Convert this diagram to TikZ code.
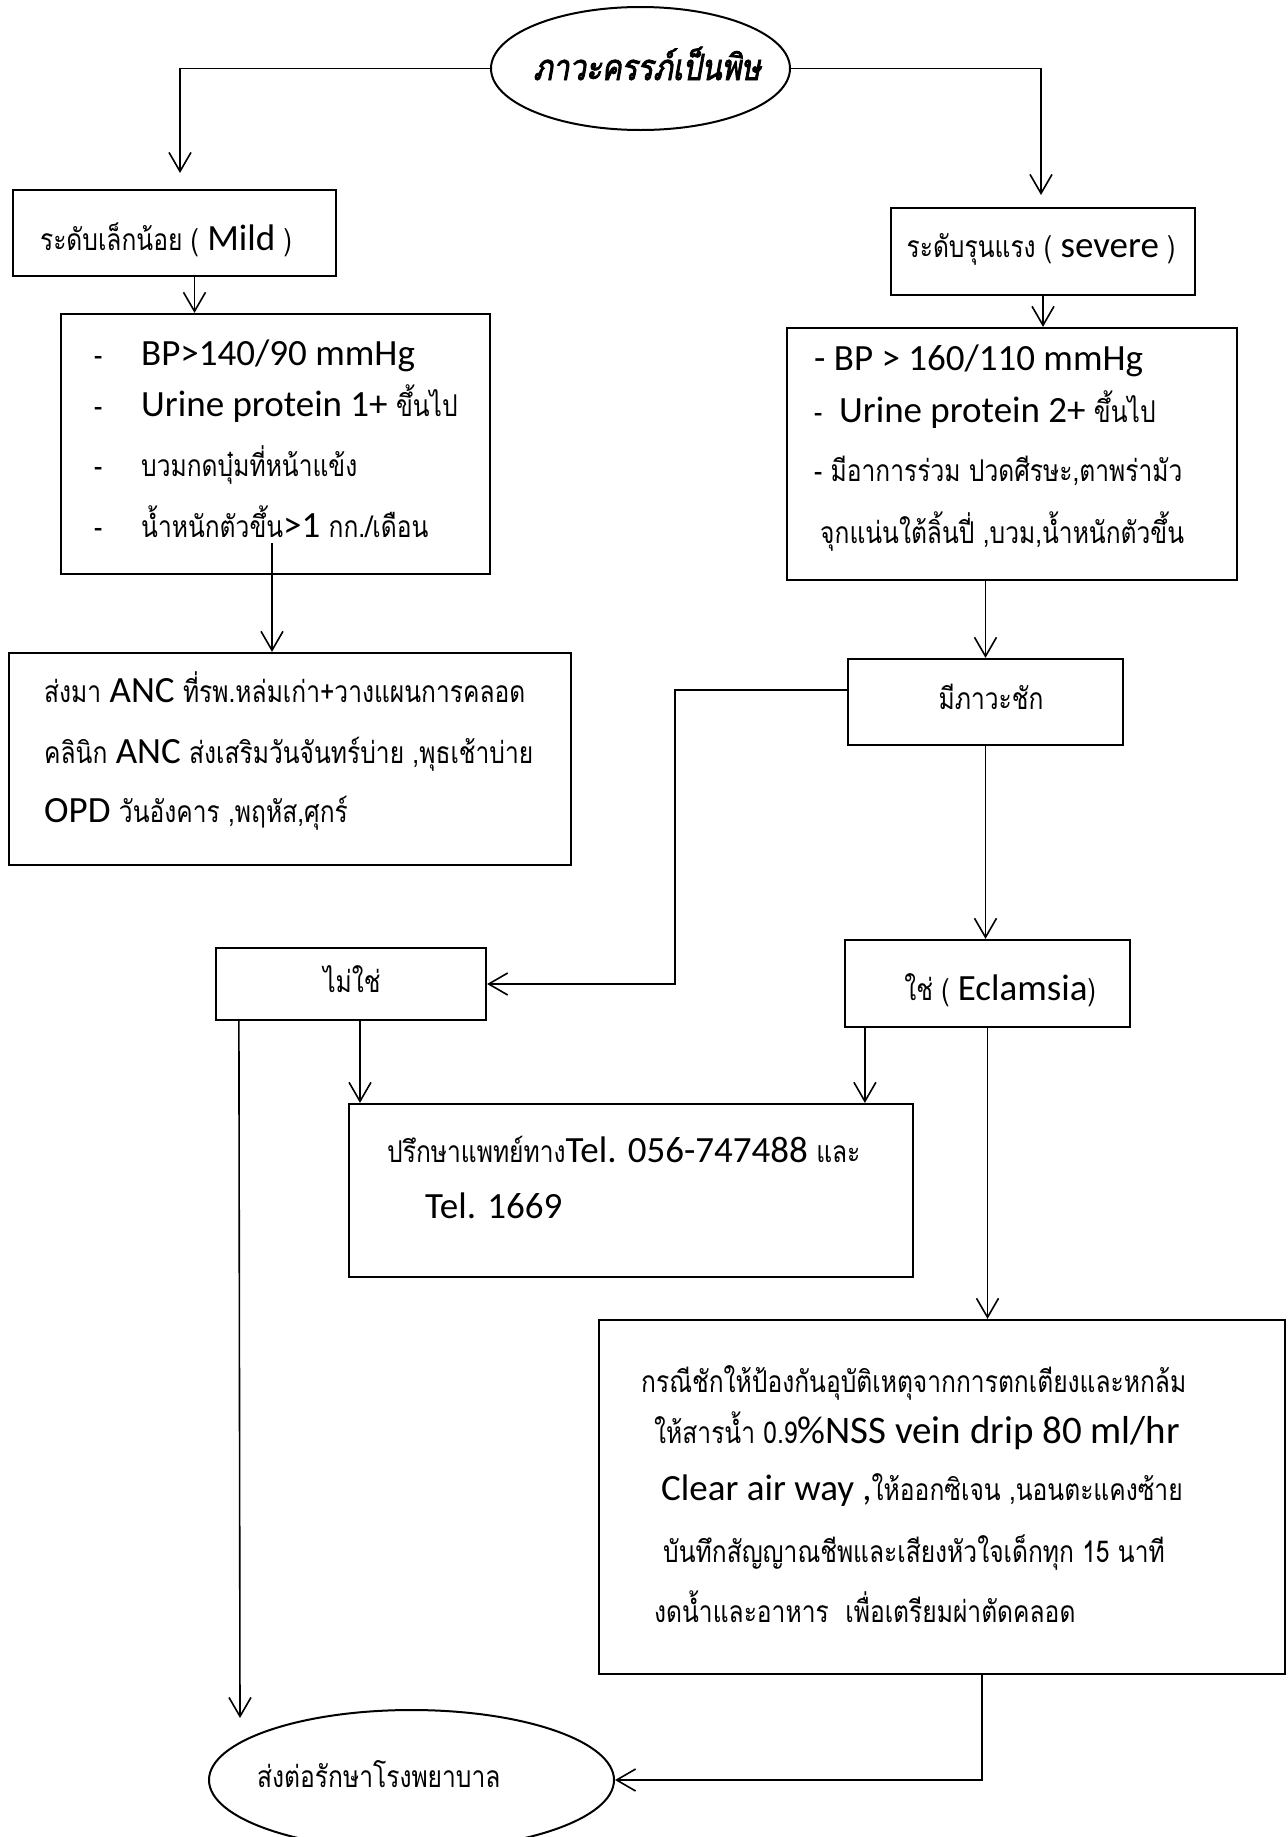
\documentclass[tikz,border=0pt]{standalone}
\usepackage{fontspec}
\setmainfont{Carlito}
\newfontfamily\thai[Script=Thai,FakeStretch=0.82]{Loma}
\newfontfamily\thaititle[Script=Thai,FakeStretch=0.82,FakeBold=2.2,FakeSlant=0.18]{Loma}
\usetikzlibrary{arrows.meta,shapes.geometric,calc}
\newcommand\tha[1]{{\thai\fontsize{30}{36}\selectfont #1}}
\begin{document}
\begin{tikzpicture}[x=1pt,y=-1pt,
  box/.style={draw,rectangle,line width=2.2pt,inner sep=0pt},
  oval/.style={draw,ellipse,line width=2pt,inner sep=0pt},
  txt/.style={anchor=base west,inner sep=0pt,font=\fontsize{37}{44}\selectfont},
  ctxt/.style={anchor=base,inner sep=0pt,font=\fontsize{37}{44}\selectfont},
  conn/.style={line width=1.6pt,-{Straight Barb[length=19pt,width=22pt,line width=1.6pt]}},
  plain/.style={line width=1.6pt}]
\useasboundingbox (0,0) rectangle (1288,1837);

% ---- shapes ----
\node[oval,minimum width=299pt,minimum height=123pt] (top) at (640.5,68.5) {};
\node[box,minimum width=323pt,minimum height=86pt] (mild) at (174.5,233) {};
\node[box,minimum width=304pt,minimum height=87pt] (sev) at (1043,251.5) {};
\node[box,minimum width=429pt,minimum height=260pt] (mildc) at (275.5,444) {};
\node[box,minimum width=450pt,minimum height=252pt] (sevc) at (1012,454) {};
\node[box,minimum width=562pt,minimum height=212pt] (anc) at (290,759) {};
\node[box,minimum width=275pt,minimum height=86pt] (seiz) at (985.5,702) {};
\node[box,minimum width=270pt,minimum height=72pt] (no) at (351,984) {};
\node[box,minimum width=285pt,minimum height=87pt] (ecl) at (987.5,983.5) {};
\node[box,minimum width=564pt,minimum height=173pt] (cons) at (631,1190.5) {};
\node[box,minimum width=686pt,minimum height=354pt] (treat) at (942,1497) {};
\node[oval,minimum width=405pt,minimum height=140pt] (final) at (411.5,1780) {};

% ---- texts ----
\node[ctxt] (toptxt) at (647,80) {{\thaititle\fontsize{36}{42}\selectfont ภาวะครรภ์เป็นพิษ}};
\node[ctxt] (mildtxt) at (166,250) {\tha{ระดับเล็กน้อย (} Mild \tha{)}};
\node[ctxt] (sevtxt) at (1041,257) {\tha{ระดับรุนแรง (} severe \tha{)}};

\node[txt] (m1d) at (94,365) {\tha{-}};
\node[txt] (m1) at (141,365) {BP>140/90 mmHg};
\node[txt] (m2d) at (94,416) {\tha{-}};
\node[txt] (m2) at (141,416) {Urine protein 1+ \tha{ขึ้นไป}};
\node[txt] (m3d) at (94,476) {\tha{-}};
\node[txt] (m3) at (141,476) {\tha{บวมกดบุ๋มที่หน้าแข้ง}};
\node[txt] (m4d) at (94,537) {\tha{-}};
\node[txt] (m4) at (141,537) {\tha{น้ำหนักตัวขึ้น}>1 \tha{กก./เดือน}};

\node[txt] (a1) at (44,702) {\tha{ส่งมา} ANC \tha{ที่รพ.หล่มเก่า+วางแผนการคลอด}};
\node[txt] (a2) at (44,763) {\tha{คลินิก} ANC \tha{ส่งเสริมวันจันทร์บ่าย ,พุธเช้าบ่าย}};
\node[txt] (a3) at (44,822) {OPD \tha{วันอังคาร ,พฤหัส,ศุกร์}};

\node[txt] (s1) at (814,370) {- BP > 160/110 mmHg};
\node[txt] (s2) at (814,422) {\tha{-}\ \ Urine protein 2+ \tha{ขึ้นไป}};
\node[txt] (s3) at (814,481) {\tha{- มีอาการร่วม ปวดศีรษะ,ตาพร่ามัว}};
\node[txt] (s4) at (820,543) {\tha{จุกแน่นใต้ลิ้นปี่ ,บวม,น้ำหนักตัวขึ้น}};

\node[ctxt] (seiztxt) at (991,709) {\tha{มีภาวะชัก}};
\node[ctxt] (notxt) at (352,992) {\tha{ไม่ใช่}};
\node[ctxt] (ecltxt) at (1000,1000) {\tha{ใช่ (} Eclamsia\tha{)}};

\node[txt] (c1) at (387,1162) {\tha{ปรึกษาแพทย์ทาง}Tel. 056-747488 \tha{และ}};
\node[txt] (c2) at (425,1218) {Tel. 1669};

\node[txt] (t1) at (641,1392) {\tha{กรณีชักให้ป้องกันอุบัติเหตุจากการตกเตียงและหกล้ม}};
\node[txt] (t2) at (654,1443) {\tha{ให้สารน้ำ 0.9}{\fontsize{39}{46}\selectfont \%NSS vein drip 80 ml/hr}};
\node[txt] (t3) at (661,1500) {Clear air way ,\tha{ให้ออกซิเจน ,นอนตะแคงซ้าย}};
\node[txt] (t4) at (663,1562) {\tha{บันทึกสัญญาณชีพและเสียงหัวใจเด็กทุก 15 นาที}};
\node[txt] (t5) at (654,1622) {\tha{งดน้ำและอาหาร\ \ เพื่อเตรียมผ่าตัดคลอด}};

\node[txt] (fintxt) at (257,1787) {\tha{ส่งต่อรักษาโรงพยาบาล}};

% ---- connector ends ----
\coordinate (mildin) at (180,173);
\coordinate (sevin) at (1041,195);
\coordinate (ancout) at (272,543);
\coordinate (jog) at (675,850);
\coordinate (finin) at (240,1718);

% ---- connectors ----
\draw[conn] (top.west) -| (mildin);
\draw[conn] (top.east) -| (sevin);
\draw[conn] ([xshift=20pt]mild.south) -- ([xshift=20pt]mild.south |- mildc.north);
\draw[conn] (sev.south) -- (sev.south |- sevc.north);
\draw[conn] (ancout) -- (ancout |- anc.north);
\draw[conn] (seiz.north |- sevc.south) -- (seiz.north);
\draw[conn] ([yshift=12pt]seiz.west) -| (jog) |- (no.east);
\draw[conn] (seiz.south) -- (seiz.south |- ecl.north);
\draw[conn] ([xshift=9pt]no.south) -- ([xshift=9pt]no.south |- cons.north);
\draw[conn] ([xshift=21pt]ecl.south west) -- ([xshift=21pt]ecl.south west |- cons.north);
\draw[conn] (ecl.south) -- (ecl.south |- treat.north);
\draw[conn] ([xshift=24pt]no.south west) -- (finin);
\draw[conn] ([xshift=40pt]treat.south) |- (final.east);
\end{tikzpicture}
\end{document}
